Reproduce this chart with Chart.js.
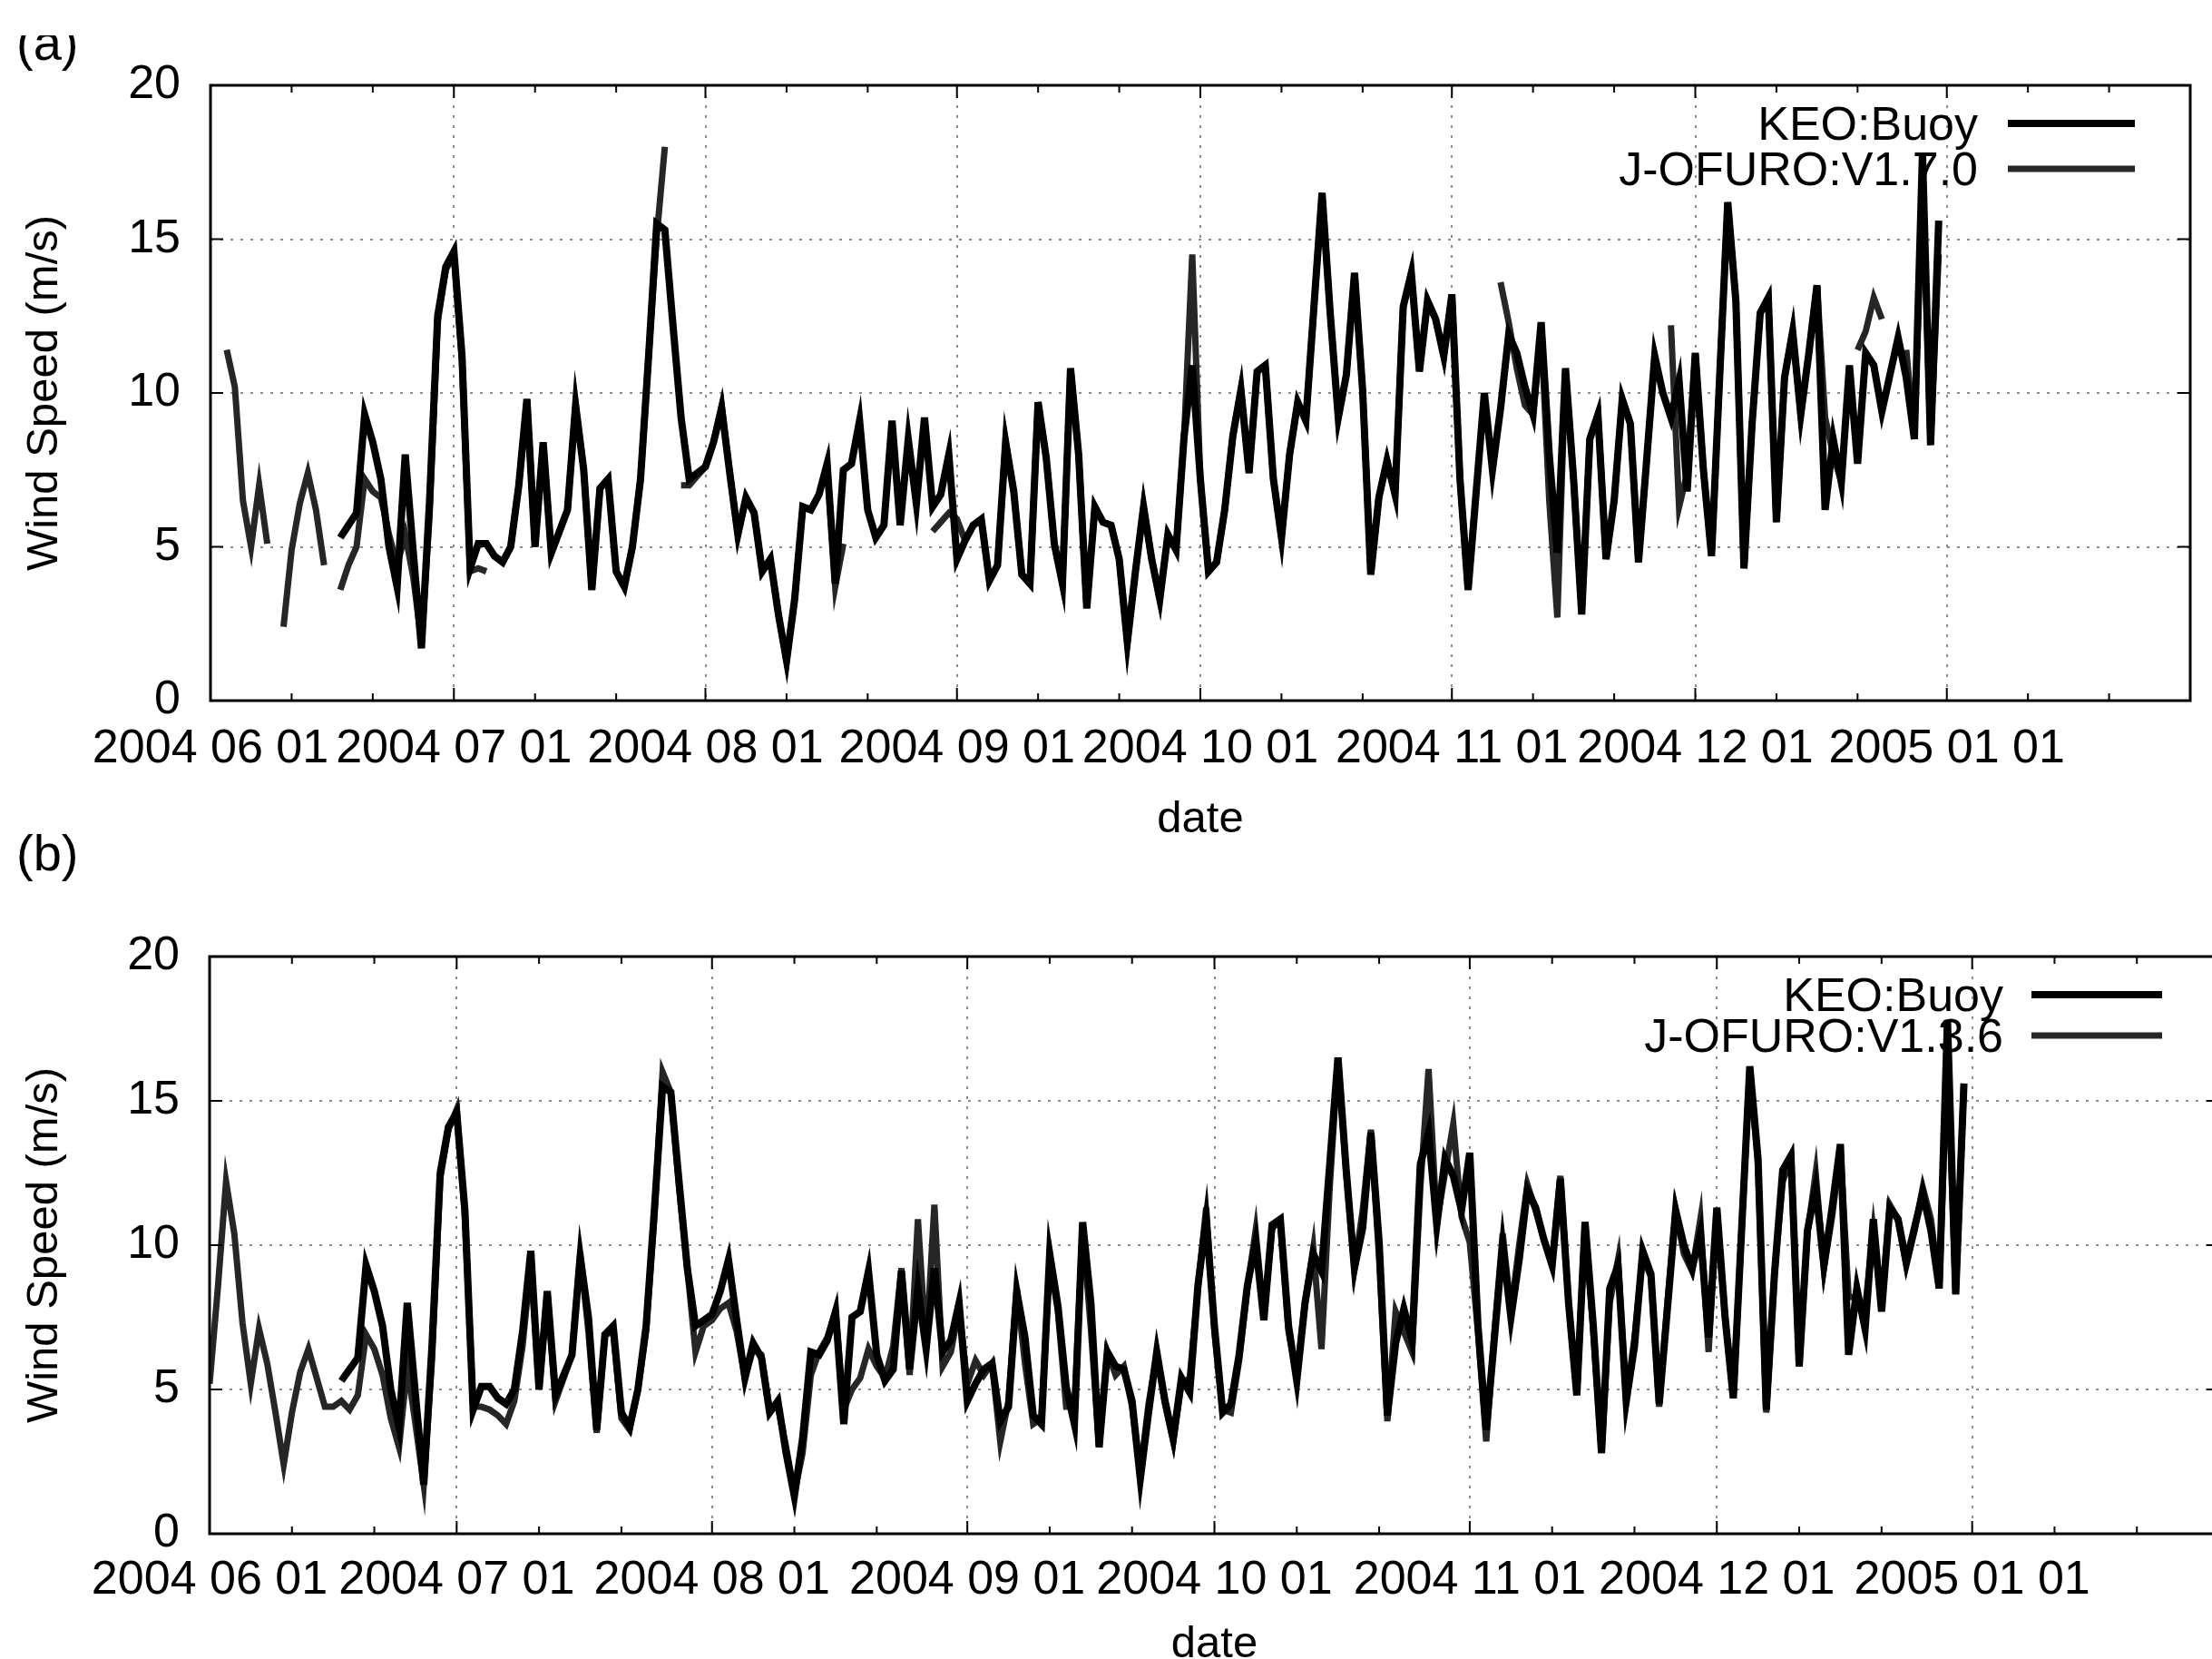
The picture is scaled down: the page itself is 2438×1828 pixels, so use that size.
<!DOCTYPE html>
<html>
<head>
<meta charset="utf-8">
<script src="https://cdn.jsdelivr.net/npm/chart.js@4.4.1/dist/chart.umd.min.js"></script>
<style>
  html, body { margin: 0; padding: 0; background: #fff; overflow: hidden; }
  #page { position: relative; width: 2438px; height: 1828px; overflow: hidden; background: #fff; }
  .tag { position: absolute; font-family: "Liberation Sans", Arial, sans-serif; color: #000; line-height: 1; }
  .clip { position: absolute; overflow: hidden; }
  #chartA { position: absolute; left: 0; top: 0; }
  #chartB { position: absolute; left: 0; top: 900px; }
</style>
</head>
<body>
<div id="page">
  <canvas id="chartA" width="2438" height="935"></canvas>
  <canvas id="chartB" width="2460" height="946"></canvas>
  <div class="clip" style="left:0; top:39px; width:120px; height:50px;">
    <div class="tag" style="left:18px; top:-20px; font-size:56px;">(a)</div>
  </div>
  <div class="tag" style="left:18px; top:912px; font-size:56px;">(b)</div>
</div>
<script>
// x axis: days since 2004-06-01
const monthDays = [0, 30, 61, 92, 122, 153, 183, 214];
const monthLabels = ['2004 06 01', '2004 07 01', '2004 08 01', '2004 09 01',
                     '2004 10 01', '2004 11 01', '2004 12 01', '2005 01 01'];
const speedTicks = [0, 5, 10, 15, 20];

// daily wind speed (m/s), index = day, null = no data
const keoBuoy = [
  null, null, null, null, null, null, null, null, null, null,
  null, null, null, null, null, null, 5.3, 5.7, 6.1, 9.3,
  8.4, 7.2, 5.0, 3.7, 8.0, 4.8, 1.7, 6.5, 12.5, 14.1,
  14.6, 11.2, 4.3, 5.1, 5.1, 4.7, 4.5, 5.0, 7.0, 9.8,
  5.0, 8.4, 4.8, 5.5, 6.2, 9.6, 7.5, 3.6, 6.9, 7.2,
  4.2, 3.7, 5.0, 7.2, 11.2, 15.5, 15.3, 12.2, 9.2, 7.2,
  7.4, 7.6, 8.4, 9.5, 7.4, 5.4, 6.6, 6.1, 4.2, 4.6,
  2.8, 1.3, 3.3, 6.3, 6.2, 6.7, 7.7, 3.8, 7.5, 7.7,
  9.1, 6.2, 5.3, 5.7, 9.1, 5.7, 8.5, 6.4, 9.2, 6.3,
  6.7, 8.0, 4.6, 5.2, 5.7, 5.9, 3.9, 4.4, 8.4, 6.8,
  4.1, 3.8, 9.7, 7.9, 5.1, 3.8, 10.8, 8.0, 3.0, 6.3,
  5.8, 5.7, 4.6, 1.9, 4.2, 6.3, 4.6, 3.3, 5.4, 4.9,
  8.6, 10.9, 7.2, 4.2, 4.5, 6.2, 8.6, 10.1, 7.4, 10.7,
  10.9, 7.2, 5.3, 8.0, 9.7, 9.1, 12.8, 16.5, 12.6, 9.2,
  10.6, 13.9, 10.1, 4.1, 6.6, 7.8, 6.7, 12.8, 13.9, 10.7,
  13.0, 12.4, 11.2, 13.2, 7.2, 3.6, 6.8, 10.0, 7.5, 9.5,
  11.9, 11.3, 10.2, 9.3, 12.3, 8.0, 4.8, 10.8, 7.2, 2.8,
  8.5, 9.3, 4.6, 6.5, 9.8, 9.0, 4.5, 7.8, 11.2, 10.0,
  9.2, 10.4, 6.8, 11.3, 7.5, 4.7, 10.5, 16.2, 13.0, 4.3,
  9.0, 12.6, 13.1, 5.8, 10.5, 12.0, 9.3, 11.3, 13.5, 6.2,
  8.5, 7.1, 10.9, 7.7, 11.3, 10.9, 9.4, 10.6, 11.8, 10.5,
  8.5, 17.8, 8.3, 15.6
];

const jofuroV170 = [
  null, null, 11.4, 10.2, 6.5, 5.0, 7.0, 5.1, null, 2.4,
  4.9, 6.4, 7.4, 6.2, 4.4, null, 3.6, 4.4, 5.0, 7.2,
  6.8, 6.6, 5.4, 4.4, 5.4, 4.0, 1.9, 6.0, 12.3, 14.0,
  14.5, 11.0, 4.2, 4.3, 4.2, null, null, 5.0, 7.0, 9.8,
  5.0, 8.4, 4.8, 5.5, 6.2, 9.6, 7.5, 3.6, 6.9, 7.2,
  4.2, 3.7, 5.0, 7.2, 11.2, 15.1, 18.0, null, 7.0, 7.0,
  7.3, 7.6, 8.4, 9.6, 7.4, 5.4, 6.6, 6.1, 4.2, 4.6,
  2.8, 1.3, 3.3, 6.3, 6.2, 6.7, 7.7, 3.7, 5.1, null,
  null, null, null, null, null, null, null, null, null, 5.5,
  5.8, 6.1, 5.9, 5.2, 5.7, 5.9, 3.9, 4.4, 8.4, 6.8,
  4.1, 3.8, 9.7, 7.9, 5.1, 3.8, 10.8, 8.0, 3.0, 6.3,
  5.8, 5.7, 4.6, 1.9, 4.2, 6.3, 4.6, 3.3, 5.4, 4.9,
  8.6, 14.5, 7.2, 4.2, 4.5, 6.2, 8.6, 10.1, 7.4, 10.7,
  10.9, 7.2, 5.3, 8.0, 9.7, 9.1, 12.8, 16.5, 12.6, 9.2,
  10.6, 13.9, 10.1, 4.1, 6.6, 7.8, 6.7, 12.8, 13.9, 10.7,
  13.0, 12.4, 11.2, 13.2, 7.2, 3.6, 6.8, null, null, 13.6,
  12.3, 10.8, 9.6, 9.3, 12.0, 6.5, 2.7, 10.8, 7.2, 2.9,
  8.5, 9.3, 4.6, 6.5, 9.8, 9.0, 4.5, 7.8, 11.2, null,
  12.2, 6.3, 7.4, 11.3, 7.5, 4.7, 10.5, 16.2, 13.0, 4.3,
  9.0, 12.6, 13.1, 5.8, 10.5, 12.0, 9.3, 11.3, 13.5, 9.2,
  8.0, 7.1, null, 11.4, 12.0, 13.1, 12.4, null, null, 11.4,
  8.6, 17.0, 8.4, 14.5
];

const jofuroV136 = [
  5.2, 8.5, 12.2, 10.4, 7.3, 5.2, 7.1, 5.9, 4.2, 2.4,
  4.2, 5.6, 6.4, 5.4, 4.4, 4.4, 4.6, 4.3, 4.8, 6.9,
  6.4, 5.5, 4.0, 3.0, 5.8, 3.8, 1.7, 6.0, 12.3, 14.0,
  14.7, 11.0, 4.4, 4.4, 4.3, 4.1, 3.8, 4.6, 6.5, 9.4,
  5.0, 8.4, 4.6, 5.4, 6.2, 9.7, 7.0, 3.5, 6.9, 7.0,
  4.0, 3.6, 5.0, 7.0, 11.0, 16.0, 15.3, 12.0, 9.2, 6.3,
  7.2, 7.4, 7.8, 8.0, 7.0, 5.4, 6.4, 6.2, 4.3, 4.4,
  3.0, 1.4, 2.8, 5.5, 6.3, 6.8, 7.7, 4.3, 5.0, 5.4,
  6.4, 5.8, 5.4, 6.5, 9.2, 5.5, 10.9, 6.4, 11.4, 5.8,
  6.3, 7.8, 5.2, 6.0, 5.5, 5.9, 3.2, 4.6, 8.5, 5.9,
  3.8, 4.0, 9.5, 7.7, 4.4, 4.4, 10.6, 7.1, 3.0, 6.3,
  5.5, 5.8, 4.4, 2.1, 4.5, 6.2, 4.5, 3.2, 5.2, 5.4,
  8.5, 11.3, 7.0, 4.3, 4.2, 6.0, 8.5, 10.5, 7.5, 10.6,
  10.8, 7.0, 5.5, 8.0, 9.9, 6.4, 12.0, 16.5, 12.5, 9.2,
  11.2, 14.0, 9.5, 3.9, 7.7, 7.0, 6.3, 12.0, 16.1, 10.8,
  12.5, 14.2, 11.0, 10.1, 7.0, 3.2, 7.0, 10.4, 7.7, 10.0,
  12.1, 11.2, 10.2, 9.3, 12.4, 8.0, 4.8, 10.8, 7.0, 2.8,
  8.0, 9.5, 4.6, 6.8, 9.6, 8.9, 4.4, 8.0, 11.2, 9.7,
  9.1, 10.9, 6.3, 11.2, 7.5, 4.7, 10.5, 16.1, 12.8, 4.2,
  9.0, 12.2, 13.0, 5.8, 10.4, 12.5, 9.2, 11.0, 13.3, 8.2,
  8.2, 7.8, 10.5, 7.9, 11.4, 10.9, 9.3, 10.5, 12.0, 10.9,
  8.5, 16.6, 8.3, 15.6
];

Chart.defaults.font.family = '"Liberation Sans", Arial, sans-serif';
Chart.defaults.color = '#000';

function toPoints(values) {
  return values.map((v, i) => ({ x: i, y: v }));
}

// border box, inward ticks (gnuplot style) and the key
const frameAndKey = {
  id: 'frameAndKey',
  afterDatasetsDraw(chart, args, opts) {
    const { ctx, chartArea: a, scales: { x, y } } = chart;
    ctx.save();
    ctx.strokeStyle = '#000';
    ctx.lineWidth = 2;
    ctx.beginPath();
    // x ticks, major at month starts, minor every 10 days
    monthDays.concat([244]).forEach((d, i, all) => {
      const px = x.getPixelForValue(d);
      ctx.moveTo(px, a.bottom); ctx.lineTo(px, a.bottom - 14);
      ctx.moveTo(px, a.top); ctx.lineTo(px, a.top + 14);
      if (i < all.length - 1) {
        [10, 20].forEach(off => {
          const mx = x.getPixelForValue(d + off);
          if (mx > a.right) return;
          ctx.moveTo(mx, a.bottom); ctx.lineTo(mx, a.bottom - 8);
          ctx.moveTo(mx, a.top); ctx.lineTo(mx, a.top + 8);
        });
      }
    });
    speedTicks.forEach(v => {
      const py = y.getPixelForValue(v);
      ctx.moveTo(a.left, py); ctx.lineTo(a.left + 14, py);
      ctx.moveTo(a.right, py); ctx.lineTo(a.right - 14, py);
    });
    ctx.stroke();
    ctx.lineWidth = 3;
    ctx.strokeRect(a.left, a.top, a.right - a.left, a.bottom - a.top);

    // key: text right-aligned, line sample to its right
    ctx.font = opts.font;
    ctx.textAlign = 'right';
    ctx.textBaseline = 'alphabetic';
    ctx.fillStyle = '#000';
    chart.data.datasets.forEach((ds, i) => {
      const rowY = opts.rows[i];
      ctx.fillText(ds.label, opts.textRight, rowY + 18);
      ctx.strokeStyle = ds.borderColor;
      ctx.lineWidth = ds.borderWidth;
      ctx.beginPath();
      ctx.moveTo(opts.lineStart, rowY);
      ctx.lineTo(opts.lineEnd, rowY);
      ctx.stroke();
    });
    ctx.restore();
  }
};

function makePanel(canvasId, jofuro, layout) {
  const gridStyle = { color: '#8c8c8c', lineWidth: 2, drawTicks: false };
  return new Chart(document.getElementById(canvasId), {
    type: 'line',
    data: {
      datasets: [
        { label: 'KEO:Buoy', data: toPoints(keoBuoy), borderColor: '#000',
          borderWidth: 8, pointRadius: 0, tension: 0, spanGaps: false },
        { label: jofuro.label, data: toPoints(jofuro.values), borderColor: '#262626',
          borderWidth: 7, pointRadius: 0, tension: 0, spanGaps: false }
      ]
    },
    options: {
      responsive: false,
      animation: false,
      layout: { padding: layout.padding },
      plugins: {
        legend: { display: false },
        tooltip: { enabled: false },
        frameAndKey: layout.key
      },
      scales: {
        x: {
          type: 'linear',
          min: 0,
          max: 244,
          afterBuildTicks: s => { s.ticks = monthDays.map(v => ({ value: v })); },
          afterFit: s => { s.height = layout.xHeight; },
          ticks: {
            autoSkip: false,
            maxRotation: 0,
            padding: layout.xTickPad,
            font: { size: 52 },
            callback: v => monthLabels[monthDays.indexOf(v)]
          },
          grid: gridStyle,
          border: { display: false, dash: [3, 8] },
          title: { display: true, text: 'date', font: { size: 49 },
                   padding: { top: 0, bottom: layout.xTitlePad } }
        },
        y: {
          min: 0,
          max: 20,
          afterFit: s => { s.width = layout.yWidth; },
          ticks: { stepSize: 5, padding: 33, font: { size: 52 } },
          grid: gridStyle,
          border: { display: false, dash: [3, 8] },
          title: { display: true, text: 'Wind Speed (m/s)', font: { size: 49 },
                   padding: { top: 20, bottom: 0 } }
        }
      }
    },
    plugins: [frameAndKey]
  });
}

makePanel('chartA', { label: 'J-OFURO:V1.7.0', values: jofuroV170 }, {
  padding: { top: 94, right: 24, left: 0, bottom: 0 },
  xHeight: 163, xTickPad: 22, xTitlePad: 2, yWidth: 232,
  key: { font: '52px "Liberation Sans", Arial, sans-serif', textRight: 2180,
         lineStart: 2213, lineEnd: 2353, rows: [136, 186] }
});

makePanel('chartB', { label: 'J-OFURO:V1.3.6', values: jofuroV136 }, {
  padding: { top: 154, right: 14, left: 0, bottom: 0 },
  xHeight: 156, xTickPad: 20, xTitlePad: 4, yWidth: 231,
  key: { font: '52px "Liberation Sans", Arial, sans-serif', textRight: 2208,
         lineStart: 2239, lineEnd: 2383, rows: [196, 241] }
});
</script>
</body>
</html>
